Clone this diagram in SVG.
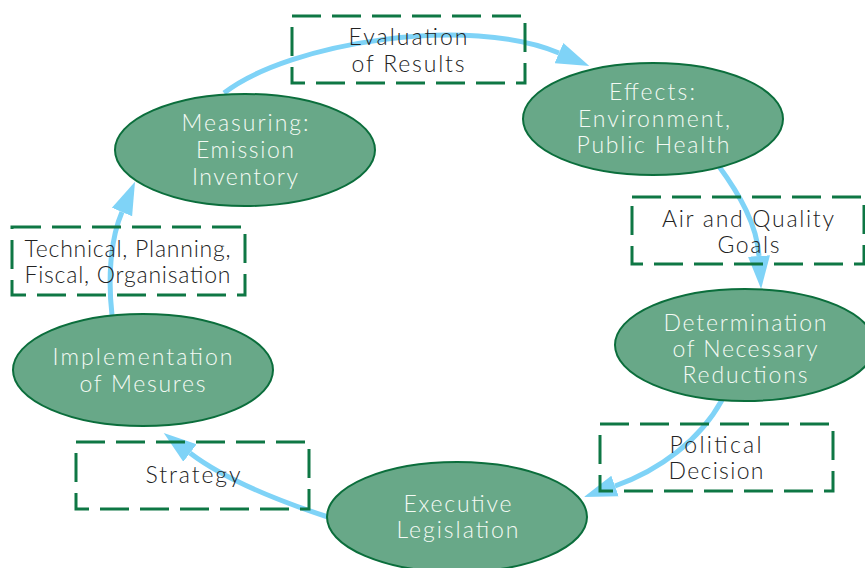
<svg xmlns="http://www.w3.org/2000/svg" width="865" height="568" viewBox="0 0 865 568">
<style>
.bg{fill:#ffffff}
.node{fill:#68a888;stroke:#0b6e3c;stroke-width:2}
.box{fill:none;stroke:#0e7744;stroke-width:3;stroke-dasharray:29 11}
.conn{fill:none;stroke:#7fd3f7;stroke-width:5}
.nt{font-family:Lato,"Liberation Sans",Arial,sans-serif;font-weight:300;font-size:23px;fill:#f4faf4;text-anchor:middle}
.bt{font-family:Lato,"Liberation Sans",Arial,sans-serif;font-weight:300;font-size:23px;fill:#222222;text-anchor:middle}
</style>
<defs>
<marker id="ah" markerUnits="userSpaceOnUse" markerWidth="34" markerHeight="24" refX="0" refY="11" orient="auto" viewBox="0 0 34 22">
<path d="M0,0 L33,11 L0,22 Z" fill="#7fd3f7"/>
</marker>
</defs>
<rect class="bg" x="0" y="0" width="865" height="568"/>
<g id="connectors">
<path class="conn" d="M224,93 C290,42 470,15 559,53" marker-end="url(#ah)"/>
<path class="conn" d="M718,165 C740,195 757,225 759,256" marker-end="url(#ah)"/>
<path class="conn" d="M722,400 C700,440 660,470 615,486" marker-end="url(#ah)"/>
<path class="conn" d="M328,517 C285,503 228,482 190,453" marker-end="url(#ah)"/>
<path class="conn" d="M112,315 C108,280 110,240 122,212" marker-end="url(#ah)"/>
</g>
<g id="measuring">
<ellipse class="node" cx="245" cy="150" rx="130" ry="56"/>
<text class="nt"><tspan x="245" y="131" textLength="127" lengthAdjust="spacing">Measuring:</tspan><tspan x="245" y="158" textLength="98" lengthAdjust="spacing">Emission</tspan><tspan x="245" y="185" textLength="106" lengthAdjust="spacing">Inventory</tspan></text>
</g>
<g id="effects">
<ellipse class="node" cx="653" cy="119" rx="130" ry="56"/>
<text class="nt"><tspan x="652" y="100" textLength="86" lengthAdjust="spacing">Effects:</tspan><tspan x="654" y="127" textLength="152" lengthAdjust="spacing">Environment,</tspan><tspan x="653" y="153" textLength="153" lengthAdjust="spacing">Public Health</tspan></text>
</g>
<g id="determination">
<ellipse class="node" cx="745" cy="345" rx="130" ry="56"/>
<text class="nt"><tspan x="745" y="331" textLength="163" lengthAdjust="spacing">Determination</tspan><tspan x="745" y="357" textLength="145" lengthAdjust="spacing">of Necessary</tspan><tspan x="745" y="383" textLength="125" lengthAdjust="spacing">Reductions</tspan></text>
</g>
<g id="executive">
<ellipse class="node" cx="457" cy="517" rx="130" ry="55"/>
<text class="nt"><tspan x="457.5" y="512" textLength="108" lengthAdjust="spacing">Executive</tspan><tspan x="457.5" y="538" textLength="122" lengthAdjust="spacing">Legislation</tspan></text>
</g>
<g id="implementation">
<ellipse class="node" cx="143" cy="370" rx="130" ry="56"/>
<text class="nt"><tspan x="142.5" y="365" textLength="180" lengthAdjust="spacing">Implementation</tspan><tspan x="142.5" y="392" textLength="126" lengthAdjust="spacing">of Mesures</tspan></text>
</g>
<g id="evaluation">
<rect class="box" x="292" y="16" width="233" height="67"/>
<text class="bt"><tspan x="408" y="45" textLength="119" lengthAdjust="spacing">Evaluation</tspan><tspan x="408" y="72" textLength="113" lengthAdjust="spacing">of Results</tspan></text>
</g>
<g id="air-quality">
<rect class="box" x="632" y="197" width="232" height="67"/>
<text class="bt"><tspan x="748" y="227" textLength="172" lengthAdjust="spacing">Air and Quality</tspan><tspan x="748.5" y="253" textLength="62" lengthAdjust="spacing">Goals</tspan></text>
</g>
<g id="political">
<rect class="box" x="600" y="424" width="233" height="67"/>
<text class="bt"><tspan x="715.5" y="453" textLength="92" lengthAdjust="spacing">Political</tspan><tspan x="716" y="479" textLength="95" lengthAdjust="spacing">Decision</tspan></text>
</g>
<g id="strategy">
<rect class="box" x="76" y="442" width="233" height="67"/>
<text class="bt" x="193" y="483" textLength="95" lengthAdjust="spacing">Strategy</text>
</g>
<g id="technical">
<rect class="box" x="12" y="227" width="233" height="68"/>
<text class="bt"><tspan x="127.5" y="257" textLength="206" lengthAdjust="spacing">Technical, Planning,</tspan><tspan x="127.5" y="283" textLength="206" lengthAdjust="spacing">Fiscal, Organisation</tspan></text>
</g>
</svg>
